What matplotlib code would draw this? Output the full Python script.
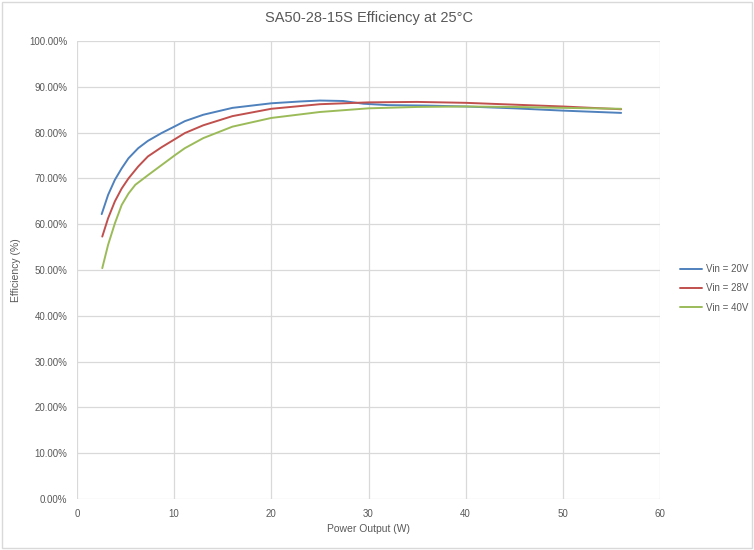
import matplotlib
matplotlib.use("Agg")
import matplotlib.pyplot as plt
from matplotlib.patches import Rectangle
from matplotlib.ticker import FuncFormatter

plt.rcParams['font.family'] = ['Liberation Sans', 'DejaVu Sans']

title = "SA50-28-15S Efficiency at 25°C"
x_label = "Power Output (W)"
y_label = "Efficiency (%)"

series_names = ["Vin = 20V", "Vin = 28V", "Vin = 40V"]
series_colors = ["#4F81BD", "#C0504D", "#9BBB59"]

x_20v = [2.54, 3.2, 3.9, 4.6, 5.3, 6.3, 7.3, 8.7, 10.1, 11.1, 13, 16, 20, 23, 25, 27.4, 29.5, 32, 36, 40, 45, 50, 56]
y_20v = [62.2, 66.4, 69.7, 72.2, 74.4, 76.6, 78.2, 79.9, 81.4, 82.5, 83.9, 85.4, 86.4, 86.8, 87.0, 86.9, 86.3, 86.0, 85.9, 85.7, 85.3, 84.8, 84.3]

x_28v = [2.6, 3.2, 3.9, 4.6, 5.3, 6.3, 7.3, 8.7, 10.1, 11.1, 13, 16, 20, 25, 30, 35, 40, 45, 50, 56]
y_28v = [57.3, 61.3, 65.0, 67.8, 70.0, 72.6, 74.8, 76.8, 78.6, 79.9, 81.6, 83.6, 85.2, 86.2, 86.6, 86.7, 86.5, 86.1, 85.7, 85.1]

x_40v = [2.6, 3.2, 3.9, 4.6, 5.3, 6.0, 7.3, 8.7, 10.1, 11.1, 13, 16, 20, 25, 30, 35, 40, 45, 50, 56]
y_40v = [50.4, 55.5, 60.2, 64.2, 66.7, 68.6, 70.7, 72.9, 75.1, 76.6, 78.8, 81.3, 83.2, 84.5, 85.3, 85.6, 85.7, 85.6, 85.4, 85.2]

x_ticks = [0, 10, 20, 30, 40, 50, 60]
y_ticks = [0, 10, 20, 30, 40, 50, 60, 70, 80, 90, 100]

text_color = "#595959"
grid_color = "#D9D9D9"

fig = plt.figure(figsize=(7.54, 5.5), dpi=100)
fig.patches.append(Rectangle((0.003, 0.004), 0.994, 0.992, transform=fig.transFigure,
                             fill=False, edgecolor=grid_color, linewidth=1.0))
ax = fig.add_axes([77/754, 51/550, 583/754, 458/550])

for xs, ys, name, c in zip([x_20v, x_28v, x_40v], [y_20v, y_28v, y_40v], series_names, series_colors):
    ax.plot(xs, ys, color=c, linewidth=1.4, label=name,
            solid_capstyle='round', solid_joinstyle='round')

ax.set_xlim(0, 60)
ax.set_ylim(0, 100)
ax.set_xticks(x_ticks)
ax.set_yticks(y_ticks)
ax.yaxis.set_major_formatter(FuncFormatter(lambda v, p: f"{v:.2f}%"))
ax.grid(True, color=grid_color, linewidth=0.9)
ax.set_axisbelow(True)
for s in ax.spines.values():
    s.set_visible(False)
ax.tick_params(length=0, labelsize=7, colors=text_color, pad=7)

ax.set_xlabel(x_label, fontsize=7.5, color=text_color, labelpad=4)
ax.set_ylabel(y_label, fontsize=7.5, color=text_color, labelpad=6)
fig.text(0.49, 0.967, title, ha='center', va='center', fontsize=10.5, color=text_color)

leg = ax.legend(loc='center left', bbox_to_anchor=(1.02, 0.46), frameon=False,
                fontsize=7, handlelength=2.2, labelspacing=0.95, handletextpad=0.4)
for t in leg.get_texts():
    t.set_color(text_color)

fig.savefig("out.png", dpi=100)
